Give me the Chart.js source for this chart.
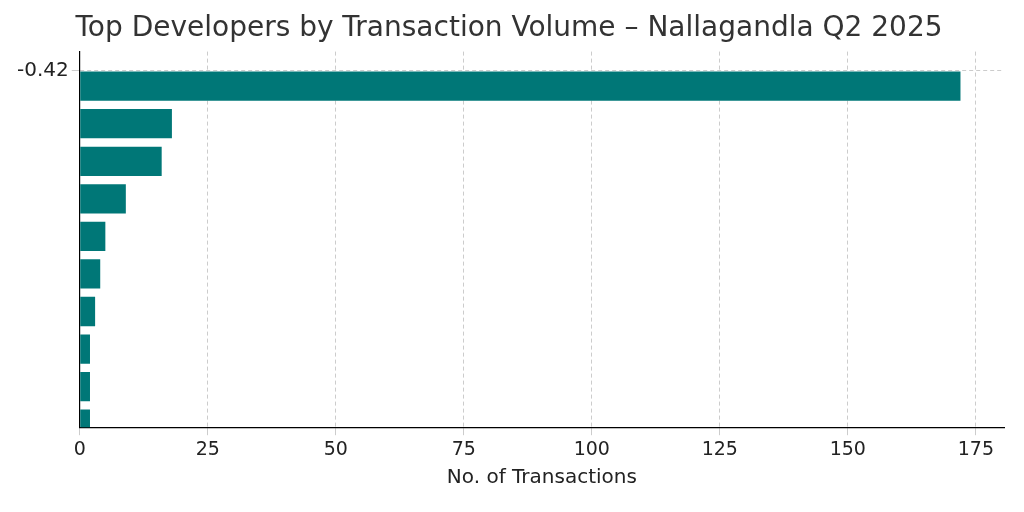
<!DOCTYPE html>
<html>
<head>
<meta charset="utf-8">
<script src="https://cdn.jsdelivr.net/npm/chart.js@4"></script>
<style>
  html, body { margin: 0; padding: 0; background: #fff; }
  #wrap { width: 1024px; height: 512px; }
</style>
</head>
<body>
<div id="wrap"><canvas id="chart" width="1024" height="512"></canvas></div>
<script>
// Developers and their transaction counts
var developers = ['Aparna', 'Aakriti', 'Houses', 'Capitol', 'Kinetic', 'Plots', 'Orange', 'The', 'Nivee', 'Aditya'];
var transactions = [172, 18, 16, 9, 5, 4, 3, 2, 2, 2];

var gridStyle = { color: '#cccccc', lineWidth: 1 };

new Chart(document.getElementById('chart'), {
  type: 'bar',
  data: {
    labels: developers,
    datasets: [{
      data: transactions,
      backgroundColor: '#007777',
      barPercentage: 0.78,
      categoryPercentage: 1.0
    }]
  },
  options: {
    indexAxis: 'y',
    responsive: false,
    animation: false,
    layout: { padding: { top: 12, right: 20, left: 14, bottom: 18 } },
    plugins: {
      legend: { display: false },
      tooltip: { enabled: false },
      title: {
        display: true,
        text: 'Top Developers by Transaction Volume \u2013 Nallagandla Q2 2025',
        color: '#333333',
        font: { family: 'DejaVu Sans', size: 28, weight: 'normal' },
        padding: { top: 0, bottom: 6 }
      }
    },
    scales: {
      x: {
        min: 0,
        max: 180.5,
        ticks: {
          stepSize: 25,
          includeBounds: false,
          color: '#222',
          font: { family: 'DejaVu Sans', size: 19 }
        },
        grid: gridStyle,
        border: { display: true, color: '#000', width: 1.2, dash: [4, 3] },
        title: {
          display: true,
          text: 'No. of Transactions',
          color: '#222',
          font: { family: 'DejaVu Sans', size: 20 },
          padding: { top: 2 }
        }
      },
      y: {
        offset: true,
        afterBuildTicks: function (scale) {
          // extra room above the first and below the last bar
          scale.min = -0.42;
          scale.max = developers.length - 1 + 0.42;
        },
        ticks: { color: '#222', font: { family: 'DejaVu Sans', size: 20 } },
        grid: Object.assign({ offset: false }, gridStyle),
        border: { display: true, color: '#000', width: 1.2, dash: [4, 3] }
      }
    }
  }
});
</script>
</body>
</html>
